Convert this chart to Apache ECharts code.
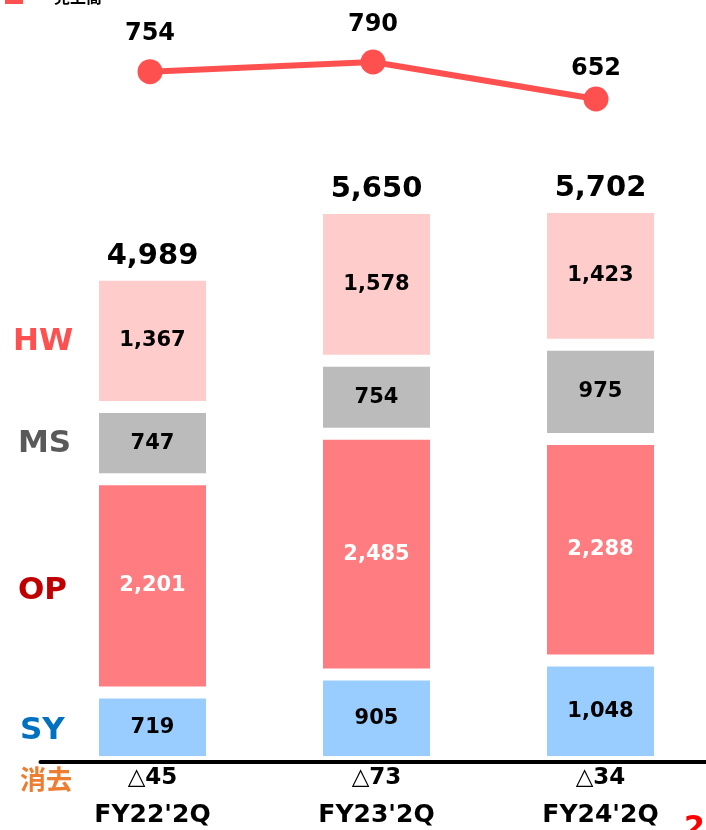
<!DOCTYPE html>
<html>
<head>
<meta charset="utf-8">
<script src="https://cdn.jsdelivr.net/npm/echarts@6/dist/echarts.min.js"></script>
<style>
  html, body { margin: 0; padding: 0; background: #fff; }
  #chart { width: 706px; height: 830px; }
</style>
</head>
<body>
<div id="chart"></div>
<script>
// values
var categories = ["FY22'2Q", "FY23'2Q", "FY24'2Q"];
var sy = [719, 905, 1048];
var op = [2201, 2485, 2288];
var ms = [747, 754, 975];
var hw = [1367, 1578, 1423];
var elim = [-45, -73, -34];
var totals = [4989, 5650, 5702];
var profit = [754, 790, 652];
var segNames = ['HW', 'MS', 'OP', 'SY'];

var FONT = 'DejaVu Sans';
var myChart = echarts.init(document.getElementById('chart'));

function fmt(v) {
  return v.toLocaleString('en-US');
}

function segment(name, data, color, textColor) {
  return {
    name: name,
    type: 'bar',
    xAxisIndex: 1,
    yAxisIndex: 1,
    stack: 'rev',
    barWidth: 119,
    data: data,
    itemStyle: { color: color, borderColor: '#fff', borderWidth: 6 },
    label: {
      show: true,
      position: 'inside',
      color: textColor,
      fontFamily: FONT,
      fontWeight: 'bold',
      fontSize: 21,
      formatter: function (p) { return fmt(p.value); }
    },
    silent: true
  };
}

var option = {
  animation: false,
  legend: {
    left: 0,
    top: -16,
    icon: 'rect',
    itemWidth: 18,
    itemHeight: 14,
    data: ['売上高'],
    textStyle: {
      fontFamily: 'Noto Sans CJK JP',
      fontWeight: 'bold',
      fontSize: 16,
      color: '#000',
      padding: [0, 0, 0, 26]
    }
  },
  grid: [
    { left: 38.5, width: 669, top: 0, bottom: 556, outerBoundsMode: 'none' },
    { left: 40.5, width: 672, top: 100, bottom: 68, outerBoundsMode: 'none' }
  ],
  xAxis: [
    { gridIndex: 0, type: 'category', data: categories, show: false },
    {
      gridIndex: 1,
      type: 'category',
      data: categories,
      z: 10,
      axisLine: { lineStyle: { color: '#000', width: 4 } },
      axisTick: { show: false },
      axisLabel: {
        margin: 1,
        formatter: function (v, i) {
          return '{t|△}{e|' + Math.abs(elim[i]) + '}\n{c|' + v + '}';
        },
        rich: {
          t: { fontFamily: FONT, fontSize: 23, color: '#000', lineHeight: 30 },
          e: { fontFamily: FONT, fontWeight: 'bold', fontSize: 23, color: '#000', lineHeight: 30 },
          c: { fontFamily: FONT, fontWeight: 'bold', fontSize: 25, color: '#000', lineHeight: 44 }
        }
      }
    }
  ],
  yAxis: [
    { gridIndex: 0, type: 'value', min: 0, max: 1021, show: false },
    { gridIndex: 1, type: 'value', min: 0, max: 6839, show: false }
  ],
  series: [
    segment('SY', sy, '#99ccff', '#000'),
    segment('OP', op, '#ff7c80', '#fff'),
    segment('MS', ms, '#bbbbbb', '#000'),
    segment('HW', hw, '#ffcccc', '#000'),
    {
      name: 'total',
      type: 'bar',
      xAxisIndex: 1,
      yAxisIndex: 1,
      stack: 'rev',
      barWidth: 119,
      data: totals.map(function () { return 0; }),
      itemStyle: { color: 'transparent', borderWidth: 0 },
      label: {
        show: true,
        position: 'top',
        distance: 4,
        color: '#000',
        fontFamily: FONT,
        fontWeight: 'bold',
        fontSize: 29,
        formatter: function (p) { return fmt(totals[p.dataIndex]); }
      },
      silent: true
    },
    {
      name: '売上高',
      type: 'line',
      xAxisIndex: 0,
      yAxisIndex: 0,
      data: profit.map(function (v, i) {
        return i === 2 ? { value: v, label: { distance: 6 } } : v;
      }),
      symbol: 'circle',
      symbolSize: 25,
      itemStyle: { color: '#ff5050' },
      lineStyle: { color: '#ff5050', width: 6 },
      label: {
        show: true,
        position: 'top',
        distance: 13,
        color: '#000',
        fontFamily: FONT,
        fontWeight: 'bold',
        fontSize: 24
      },
      silent: true
    }
  ],
  graphic: [
    { type: 'text', left: 13, top: 326, style: { text: segNames[0], fill: '#ff5050', font: 'bold 31px "DejaVu Sans"' } },
    { type: 'text', left: 18, top: 428, style: { text: segNames[1], fill: '#595959', font: 'bold 31px "DejaVu Sans"' } },
    { type: 'text', left: 18, top: 575, style: { text: segNames[2], fill: '#c00000', font: 'bold 31px "DejaVu Sans"' } },
    { type: 'text', left: 20, top: 715, style: { text: segNames[3], fill: '#0070c0', font: 'bold 31px "DejaVu Sans"' } },
    { type: 'text', left: 20, top: 766, style: { text: '消去', fill: '#ed7d31', font: 'bold 26px "Noto Sans CJK JP"' } },
    { type: 'text', left: 684, top: 814, style: { text: '2', fill: '#ff0000', font: 'bold 30px "DejaVu Sans"' } }
  ]
};

myChart.setOption(option);
</script>
</body>
</html>
